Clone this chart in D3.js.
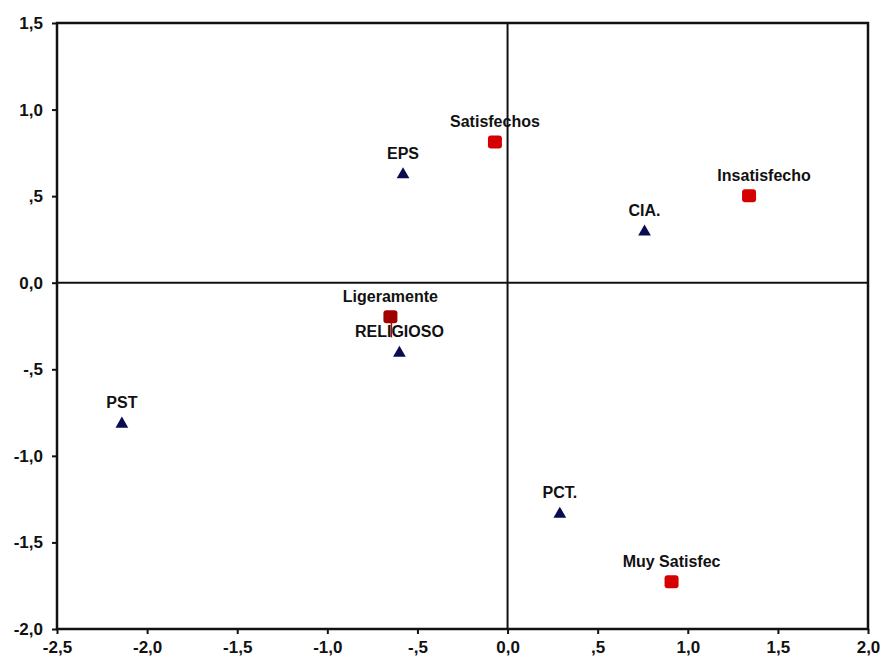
<!DOCTYPE html>
<html>
<head>
<meta charset="utf-8">
<script src="https://d3js.org/d3.v7.min.js"></script>
<style>
  body { margin: 0; background: #fff; }
  text { font-family: Arial, "Liberation Sans", sans-serif; font-weight: bold; fill: #111; }
</style>
</head>
<body>
<svg id="chart" width="884" height="660"></svg>
<script>
// Row-category points (red squares)
const satNames = ["Satisfechos", "Insatisfecho", "Ligeramente", "Muy Satisfec"];
const satX = [-0.07, 1.34, -0.65, 0.91];
const satY = [0.81, 0.50, -0.20, -1.73];

// Column-category points (navy triangles)
const grpNames = ["EPS", "CIA.", "RELIGIOSO", "PST", "PCT."];
const grpX = [-0.58, 0.76, -0.60, -2.14, 0.29];
const grpY = [0.63, 0.30, -0.40, -0.81, -1.33];

const xTicks = [-2.5, -2.0, -1.5, -1.0, -0.5, 0.0, 0.5, 1.0, 1.5, 2.0];
const xTickLabels = ["-2,5", "-2,0", "-1,5", "-1,0", "-,5", "0,0", ",5", "1,0", "1,5", "2,0"];
const yTicks = [1.5, 1.0, 0.5, 0.0, -0.5, -1.0, -1.5, -2.0];
const yTickLabels = ["1,5", "1,0", ",5", "0,0", "-,5", "-1,0", "-1,5", "-2,0"];

const svg = d3.select("#chart");
const x = d3.scaleLinear().domain([-2.5, 2.0]).range([57, 868]);
const y = d3.scaleLinear().domain([-2.0, 1.5]).range([629, 23]);

// axes
const xAxis = d3.axisBottom(x).tickValues(xTicks)
  .tickFormat((d, i) => xTickLabels[i]).tickSizeOuter(0).tickSize(5).tickPadding(5);
const yAxis = d3.axisLeft(y).tickValues(yTicks)
  .tickFormat((d, i) => yTickLabels[i]).tickSizeOuter(0).tickSize(5).tickPadding(9);

const gx = svg.append("g").attr("transform", "translate(0,629)").call(xAxis);
const gy = svg.append("g").attr("transform", "translate(57,0)").call(yAxis);
[gx, gy].forEach(g => {
  g.select(".domain").remove();
  g.selectAll("line").attr("stroke", "#111").attr("stroke-width", 2);
  g.selectAll("text").style("font-size", "17px").style("font-weight", "bold")
    .style("font-family", "Arial, 'Liberation Sans', sans-serif").attr("fill", "#111");
});
gx.selectAll("text").attr("dy", "0.85em");
gy.selectAll("text").attr("dy", "0.32em");

// frame
svg.append("rect")
  .attr("x", x(-2.5)).attr("y", y(1.5))
  .attr("width", x(2.0) - x(-2.5)).attr("height", y(-2.0) - y(1.5))
  .attr("fill", "none").attr("stroke", "#111").attr("stroke-width", 2.5);

// reference lines
svg.append("line").attr("x1", x(0)).attr("x2", x(0)).attr("y1", y(1.5)).attr("y2", y(-2.0))
  .attr("stroke", "#111").attr("stroke-width", 2);
svg.append("line").attr("x1", x(-2.5)).attr("x2", x(2.0)).attr("y1", y(0)).attr("y2", y(0))
  .attr("stroke", "#111").attr("stroke-width", 2);

const sat = satNames.map((n, i) => ({ name: n, x: satX[i], y: satY[i] }));
const grp = grpNames.map((n, i) => ({ name: n, x: grpX[i], y: grpY[i] }));

// little leader under "Ligeramente"
svg.append("line")
  .attr("x1", x(-0.65) + 1).attr("x2", x(-0.65) + 1)
  .attr("y1", y(-0.20)).attr("y2", y(-0.20) + 20)
  .attr("stroke", "#c00000").attr("stroke-width", 1.5);

svg.selectAll("rect.sat").data(sat).join("rect")
  .attr("class", "sat")
  .attr("x", d => x(d.x) - 7).attr("y", d => y(d.y) - 7)
  .attr("width", 14).attr("height", 13).attr("rx", 3)
  .attr("fill", d => d.name === "Ligeramente" ? "#a00000" : "#d50000");

svg.selectAll("path.grp").data(grp).join("path")
  .attr("class", "grp")
  .attr("d", d3.symbol().type(d3.symbolTriangle).size(70))
  .attr("transform", d => `translate(${x(d.x)},${y(d.y) + 1})`)
  .attr("fill", "#0b0b4f");

const labels = sat.concat(grp);
svg.selectAll("text.lbl").data(labels).join("text")
  .attr("class", "lbl")
  .attr("x", d => x(d.x) + (d.name === "Insatisfecho" ? 15 : 0))
  .attr("y", d => y(d.y) - 15)
  .attr("text-anchor", "middle")
  .style("font-size", "16px")
  .text(d => d.name);
</script>
</body>
</html>
